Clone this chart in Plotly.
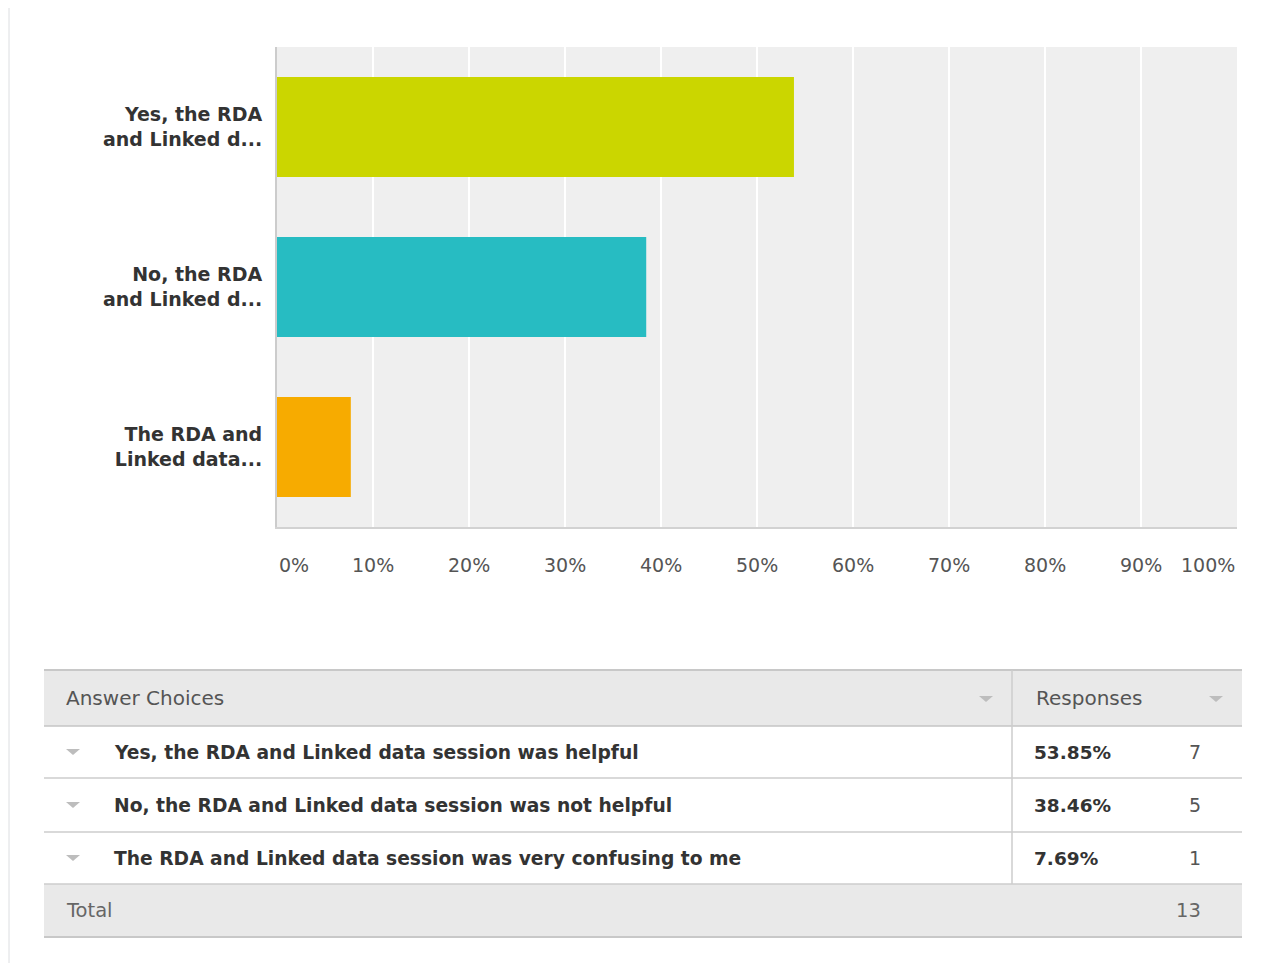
import plotly.graph_objects as go

# data
SHORT_LABELS = [
    "Yes, the RDA<br>and Linked d...",
    "No, the RDA<br>and Linked d...",
    "The RDA and<br>Linked data...",
]
CHOICES = [
    "Yes, the RDA and Linked data session was helpful",
    "No, the RDA and Linked data session was not helpful",
    "The RDA and Linked data session was very confusing to me",
]
PERCENTS = [53.85, 38.46, 7.69]
COUNTS = [7, 5, 1]
TOTAL = 13
TICK_VALUES = [0, 10, 20, 30, 40, 50, 60, 70, 80, 90, 100]
TICK_LABELS = ["0%", "10%", "20%", "30%", "40%", "50%", "60%", "70%", "80%", "90%", "100%"]
BAR_COLORS = ["#cbd600", "#27bcc2", "#f7ab00"]

# the page puts the figure 8px in from the top-left corner
OFF = 8
W, H = 1270, 955
FONT = "DejaVu Sans"


def px(x):
    return (x - OFF) / W


def py(y):
    return 1 - (y - OFF) / H


fig = go.Figure()
fig.add_trace(
    go.Bar(
        x=PERCENTS,
        y=SHORT_LABELS,
        orientation="h",
        marker=dict(color=BAR_COLORS, line_width=0),
        width=0.625,
        hoverinfo="x+y",
        showlegend=False,
    )
)

shapes = []
annotations = []

# card edge on the left
shapes.append(dict(type="line", xref="paper", yref="paper", x0=px(9), x1=px(9), y0=0, y1=1,
                   line=dict(color="#dcdee1", width=1)))

# x tick labels, first and last kept inside the plot
for i, (v, lab) in enumerate(zip(TICK_VALUES, TICK_LABELS)):
    anchor = "left" if i == 0 else ("right" if i == len(TICK_VALUES) - 1 else "center")
    annotations.append(dict(x=v, xref="x", y=py(565), yref="paper", text=lab, showarrow=False,
                            xanchor=anchor, yanchor="middle",
                            font=dict(family=FONT, size=19, color="#555555")))

# table
TL, TR, TDIV = 44, 1242, 1012
HEAD_TOP, HEAD_BOT = 670, 726
ROW_EDGES = [726, 778, 832, 884]
TOTAL_BOT = 937


def hline(y, color, width):
    shapes.append(dict(type="line", xref="paper", yref="paper", x0=px(TL), x1=px(TR),
                       y0=py(y), y1=py(y), line=dict(color=color, width=width)))


def tri(cx, cy, w=14, h=6, color="#bdbdbd"):
    x0, x1 = px(cx - w / 2), px(cx + w / 2)
    y0, y1 = py(cy - h / 2), py(cy + h / 2)
    shapes.append(dict(type="path", xref="paper", yref="paper",
                       path=f"M {x0} {y0} L {x1} {y0} L {px(cx)} {y1} Z",
                       fillcolor=color, line_width=0))


def label(x, y, text, anchor, size, color):
    annotations.append(dict(x=px(x), y=py(y), xref="paper", yref="paper", text=text,
                            showarrow=False, xanchor=anchor, yanchor="middle",
                            font=dict(family=FONT, size=size, color=color)))


shapes.append(dict(type="rect", xref="paper", yref="paper", x0=px(TL), x1=px(TR),
                   y0=py(HEAD_BOT), y1=py(HEAD_TOP), fillcolor="#e9e9e9", line_width=0))
shapes.append(dict(type="rect", xref="paper", yref="paper", x0=px(TL), x1=px(TR),
                   y0=py(TOTAL_BOT), y1=py(ROW_EDGES[-1]), fillcolor="#e9e9e9", line_width=0))
hline(HEAD_TOP, "#c8c8c8", 2)
hline(HEAD_BOT, "#c4c4c4", 1.5)
for y in ROW_EDGES[1:]:
    hline(y, "#cccccc", 1.5)
hline(TOTAL_BOT, "#c8c8c8", 2)
shapes.append(dict(type="line", xref="paper", yref="paper", x0=px(TDIV), x1=px(TDIV),
                   y0=py(ROW_EDGES[-1]), y1=py(HEAD_TOP), line=dict(color="#cccccc", width=1.5)))

label(64, 698, "Answer Choices", "left", 20, "#555555")
label(1034, 698, "Responses", "left", 20, "#555555")
tri(986, 699)
tri(1216, 699)

for i, (choice, pct, cnt) in enumerate(zip(CHOICES, PERCENTS, COUNTS)):
    cy = (ROW_EDGES[i] + ROW_EDGES[i + 1]) / 2
    tri(73, cy)
    label(112, cy, f"<b>{choice}</b>", "left", 18.7, "#333333")
    label(1032, cy, f"<b>{pct:.2f}%</b>", "left", 18.5, "#333333")
    label(1203, cy, str(cnt), "right", 19, "#555555")

tcy = (ROW_EDGES[-1] + TOTAL_BOT) / 2
label(64, tcy, "Total", "left", 19.5, "#666666")
label(1203, tcy, str(TOTAL), "right", 19.5, "#666666")

fig.update_layout(
    width=W,
    height=H,
    margin=dict(l=0, r=0, t=0, b=0),
    paper_bgcolor="white",
    plot_bgcolor="#efefef",
    font=dict(family=FONT, color="#333333"),
    shapes=shapes,
    annotations=annotations,
    xaxis=dict(
        domain=[px(277), px(1237)],
        range=[0, 100],
        tickvals=TICK_VALUES,
        showticklabels=False,
        showgrid=True,
        gridcolor="white",
        gridwidth=2,
        zeroline=False,
        showline=True,
        linecolor="#d2d2d2",
        linewidth=2,
        fixedrange=True,
    ),
    yaxis=dict(
        domain=[py(527), py(47)],
        autorange="reversed",
        showgrid=False,
        zeroline=False,
        showline=True,
        linecolor="#cccccc",
        linewidth=2,
        ticks="outside",
        ticklen=9,
        tickcolor="rgba(0,0,0,0)",
        tickfont=dict(family=FONT, size=19, color="#333333", weight="bold"),
        fixedrange=True,
    ),
)

fig.write_html("out.html")
